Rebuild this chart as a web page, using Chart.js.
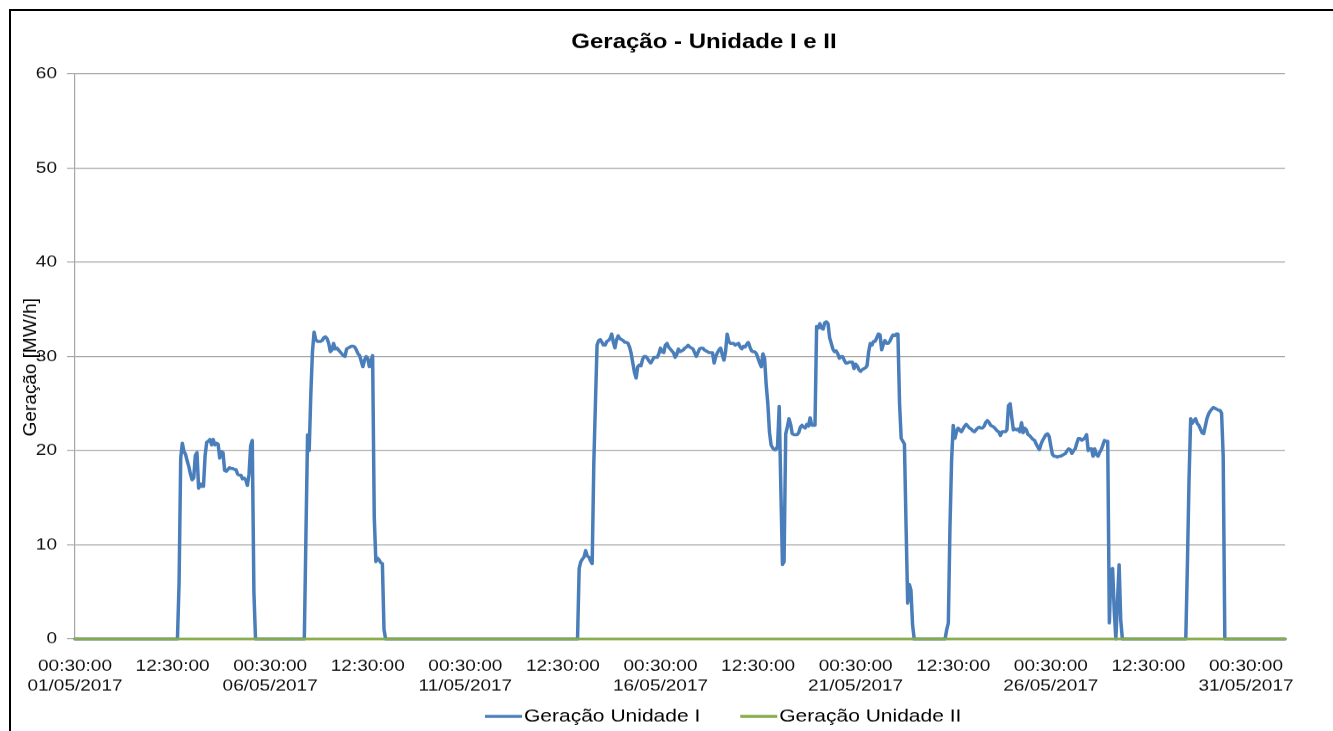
<!DOCTYPE html>
<html>
<head>
<meta charset="utf-8">
<title>Geração - Unidade I e II</title>
<script src="https://cdn.jsdelivr.net/npm/chart.js@4.4.1/dist/chart.umd.min.js"></script>
<style>
  html, body { margin: 0; padding: 0; background: #fff; overflow: hidden; }
  #frame {
    position: absolute; left: 9px; top: 9px; width: 1400px; height: 800px;
    border-top: 2px solid #000; border-left: 2px solid #000;
    border-right: none; border-bottom: none;
  }
  /* the source picture is squeezed vertically, so the canvas is too */
  #genChart {
    position: absolute; left: 0; top: 0;
    transform: scaleY(0.86); transform-origin: 0 0;
  }
</style>
</head>
<body>
<div id="frame"></div>
<canvas id="genChart" width="1333" height="850"></canvas>
<script>
'use strict';

const chartTitle = 'Geração - Unidade I e II';
const yAxisTitle = 'Geração [MW/h]';
const seriesNames = ['Geração Unidade I', 'Geração Unidade II'];
const seriesColors = ['#4a7ebb', '#86ab4b'];

// hours counted from 01/05/2017 00:30:00, one tick every 60 h
const tickHours = [0, 60, 120, 180, 240, 300, 360, 420, 480, 540, 600, 660, 720];
const tickLabels = [
  ['00:30:00', '01/05/2017'], '12:30:00',
  ['00:30:00', '06/05/2017'], '12:30:00',
  ['00:30:00', '11/05/2017'], '12:30:00',
  ['00:30:00', '16/05/2017'], '12:30:00',
  ['00:30:00', '21/05/2017'], '12:30:00',
  ['00:30:00', '26/05/2017'], '12:30:00',
  ['00:30:00', '31/05/2017']
];
const yTicks = [0, 10, 20, 30, 40, 50, 60];

// Unidade I: hourly readings, grouped in runs (hour where each run starts)
const unit1RunStarts = [0, 63, 141, 309, 535, 683, 744];
const unit1Runs = [
  [0],
  [0, 6, 19.2, 20.8, 19.9, 19.6, 18.9, 18.3, 17.5, 16.9,
   17.1, 19.5, 19.8, 16.0, 16.5, 16.2, 16.2, 19.5, 20.9, 21.0,
   21.2, 20.6, 21.2, 20.6, 20.8, 20.7, 19.2, 19.9, 19.8, 17.9,
   17.8, 18.0, 18.2, 18.1, 18.1, 18.0, 18.0, 17.5, 17.4, 17.4,
   17.0, 17.1, 16.9, 16.3, 17.5, 20.5, 21.1, 5, 0],
  [0, 11, 21.7, 20.0, 26, 30.5, 32.6, 31.8, 31.6, 31.6,
   31.6, 31.7, 32.0, 32.1, 31.9, 31.4, 30.5, 30.7, 31.4, 30.8,
   30.9, 30.7, 30.5, 30.3, 30.1, 30.0, 30.8, 30.9, 31.0, 31.1,
   31.1, 31.0, 30.7, 30.3, 30.1, 29.5, 28.9, 29.6, 30.0, 29.8,
   28.9, 29.5, 30.1, 13.0, 8.2, 8.6, 8.4, 8.1, 8.0, 1.0, 0],
  [0, 7.5, 8.2, 8.5, 8.7, 9.4, 8.8, 8.7, 8.3, 8.0,
   18.6, 25, 31.2, 31.7, 31.8, 31.5, 31.2, 31.2, 31.6, 31.7,
   31.9, 32.4, 31.5, 30.9, 31.8, 32.2, 31.9, 31.8, 31.7, 31.5,
   31.5, 31.4, 31.0, 30.3, 29.3, 28.3, 27.7, 28.9, 29.1, 29.0,
   29.7, 30.0, 30.0, 29.8, 29.5, 29.3, 29.6, 29.9, 29.9, 29.9,
   30.3, 30.9, 30.5, 30.4, 31.2, 31.4, 31.0, 30.8, 30.6, 30.4,
   29.9, 30.2, 30.8, 30.5, 30.6, 30.7, 30.9, 31.0, 31.2, 31.0,
   30.9, 30.8, 30.4, 30.0, 30.4, 30.8, 30.9, 30.9, 30.7, 30.6,
   30.5, 30.4, 30.4, 30.4, 29.3, 30.0, 30.4, 30.7, 30.9, 30.2,
   29.6, 30.5, 32.4, 31.6, 31.4, 31.4, 31.4, 31.2, 31.3, 31.4,
   31.0, 30.8, 31.1, 31.0, 31.3, 31.5, 31.0, 30.6, 30.5, 30.5,
   30.3, 29.8, 29.3, 28.9, 30.3, 29.8, 27.0, 25.0, 22.0, 20.6,
   20.3, 20.1, 20.1, 20.5, 24.7, 16.0, 7.9, 8.2, 21.8, 22.5,
   23.4, 22.8, 21.8, 21.7, 21.7, 21.7, 21.9, 22.5, 22.7, 22.5,
   22.4, 22.8, 22.6, 23.5, 22.7, 22.7, 22.7, 33.2, 33.0, 33.5,
   33.0, 32.9, 33.6, 33.7, 33.5, 32.0, 31.4, 30.8, 30.5, 30.6,
   30.3, 29.8, 30.0, 30.0, 29.6, 29.3, 29.3, 29.4, 29.4, 29.4,
   28.7, 29.2, 29.0, 28.6, 28.4, 28.6, 28.7, 28.8, 29.0, 30.5,
   31.4, 31.2, 31.6, 31.6, 32.0, 32.4, 32.3, 30.7, 31.3, 31.7,
   31.4, 31.4, 31.6, 32.0, 32.3, 32.2, 32.4, 32.4, 25.0, 21.3,
   21.0, 20.7, 12.0, 3.8, 5.8, 5.2, 1.5, 0],
  [0, 1.0, 1.7, 12.0, 19.0, 22.7, 21.3, 22.0, 22.4, 22.2,
   22.0, 22.3, 22.6, 22.8, 22.6, 22.4, 22.3, 22.1, 22.0, 22.2,
   22.4, 22.5, 22.4, 22.4, 22.6, 23.0, 23.2, 23.0, 22.7, 22.6,
   22.5, 22.3, 22.1, 22.0, 21.6, 22.0, 22.0, 22.0, 22.2, 24.8,
   25.0, 23.5, 22.2, 22.3, 22.2, 22.3, 22.0, 23.0, 21.9, 22.4,
   22.2, 21.7, 21.6, 21.4, 21.2, 21.1, 20.7, 20.4, 20.1, 20.7,
   21.1, 21.4, 21.7, 21.8, 21.5, 20.5, 19.6, 19.4, 19.4, 19.3,
   19.4, 19.4, 19.5, 19.6, 19.7, 20.0, 20.2, 20.1, 19.7, 20.0,
   20.2, 20.8, 21.3, 21.3, 21.1, 21.2, 21.4, 21.7, 20.0, 20.2,
   20.2, 19.4, 20.2, 19.6, 19.4, 19.8, 20.1, 20.6, 21.1, 21.0,
   21.0, 1.7, 7.3, 7.5, 3.0, 0, 4.0, 7.9, 2.0, 0],
  [0, 8, 17, 23.4, 22.9, 23.2, 23.4, 22.9, 22.7, 22.3,
   21.9, 21.8, 22.6, 23.4, 23.9, 24.2, 24.4, 24.6, 24.5, 24.4,
   24.3, 24.3, 24.0, 19.4, 0],
  [0]
];

// Unidade II stayed at zero the whole month
const unit2RunStarts = [0, 744];
const unit2Runs = [[0], [0]];

function buildPoints(starts, runs) {
  let points = [];
  for (let r = 0; r < runs.length; r++) {
    for (let i = 0; i < runs[r].length; i++) {
      points.push({ x: starts[r] + i, y: runs[r][i] });
    }
  }
  return points;
}

const fontFamily = '"Liberation Sans", Arial, sans-serif';
Chart.defaults.font.family = fontFamily;
Chart.defaults.color = '#111';

// title, rotated axis title and legend are placed by hand, like the source
const frameText = {
  id: 'frameText',
  afterDraw(chart) {
    const ctx = chart.ctx;
    ctx.save();
    ctx.fillStyle = '#000';
    ctx.textAlign = 'center';
    ctx.textBaseline = 'middle';
    ctx.font = 'bold 24px ' + fontFamily;
    ctx.fillText(chartTitle, 704, 49);

    // undo the vertical squeeze along the rotated text
    ctx.save();
    ctx.translate(31, 427);
    ctx.rotate(-Math.PI / 2);
    ctx.scale(1 / 0.86, 1);
    ctx.font = '19px ' + fontFamily;
    ctx.fillText(yAxisTitle, 0, 0);
    ctx.restore();

    ctx.font = '21px ' + fontFamily;
    ctx.textAlign = 'left';
    let x = 485;
    const y = 833;
    for (let i = 0; i < seriesNames.length; i++) {
      ctx.strokeStyle = seriesColors[i];
      ctx.lineWidth = 3.5;
      ctx.beginPath();
      ctx.moveTo(x, y);
      ctx.lineTo(x + 37, y);
      ctx.stroke();
      ctx.fillText(seriesNames[i], x + 39, y);
      x += 39 + ctx.measureText(seriesNames[i]).width + 40;
    }
    ctx.restore();
  }
};

const ctx = document.getElementById('genChart');

let config = {
  type: 'line',
  data: {
    datasets: [
      {
        label: seriesNames[0],
        data: buildPoints(unit1RunStarts, unit1Runs),
        borderColor: seriesColors[0],
        borderWidth: 3.5,
        order: 1
      },
      {
        label: seriesNames[1],
        data: buildPoints(unit2RunStarts, unit2Runs),
        borderColor: seriesColors[1],
        borderWidth: 3,
        order: 0
      }
    ]
  },
  options: {
    responsive: false,
    animation: false,
    events: [],
    clip: false,
    elements: {
      point: { radius: 0 },
      line: { tension: 0, borderJoinStyle: 'round', borderCapStyle: 'round', fill: false }
    },
    layout: { padding: { top: 86, right: 48, bottom: 0, left: 0 } },
    plugins: {
      legend: { display: false },
      title: { display: false },
      tooltip: { enabled: false }
    },
    scales: {
      x: {
        type: 'linear',
        min: 0,
        max: 744,
        grid: { display: false },
        border: { display: false },
        afterBuildTicks: (scale) => {
          scale.ticks = tickHours.map((h) => ({ value: h }));
        },
        afterFit: (scale) => { scale.height = 107; },
        ticks: {
          autoSkip: false,
          maxRotation: 0,
          padding: 12,
          color: '#111',
          font: { size: 19, lineHeight: 1.22 },
          callback: (value, index) => tickLabels[index]
        }
      },
      y: {
        min: 0,
        max: 60,
        afterBuildTicks: (scale) => {
          scale.ticks = yTicks.map((v) => ({ value: v }));
        },
        afterFit: (scale) => { scale.width = 75; },
        grid: { color: '#a6a6a6', lineWidth: 1.2, tickLength: 8 },
        border: { display: true, color: '#a6a6a6', width: 1.2 },
        ticks: { padding: 10, color: '#111', font: { size: 19 } }
      }
    }
  },
  plugins: [frameText]
};

let myChart = new Chart(ctx, config);
</script>
</body>
</html>
